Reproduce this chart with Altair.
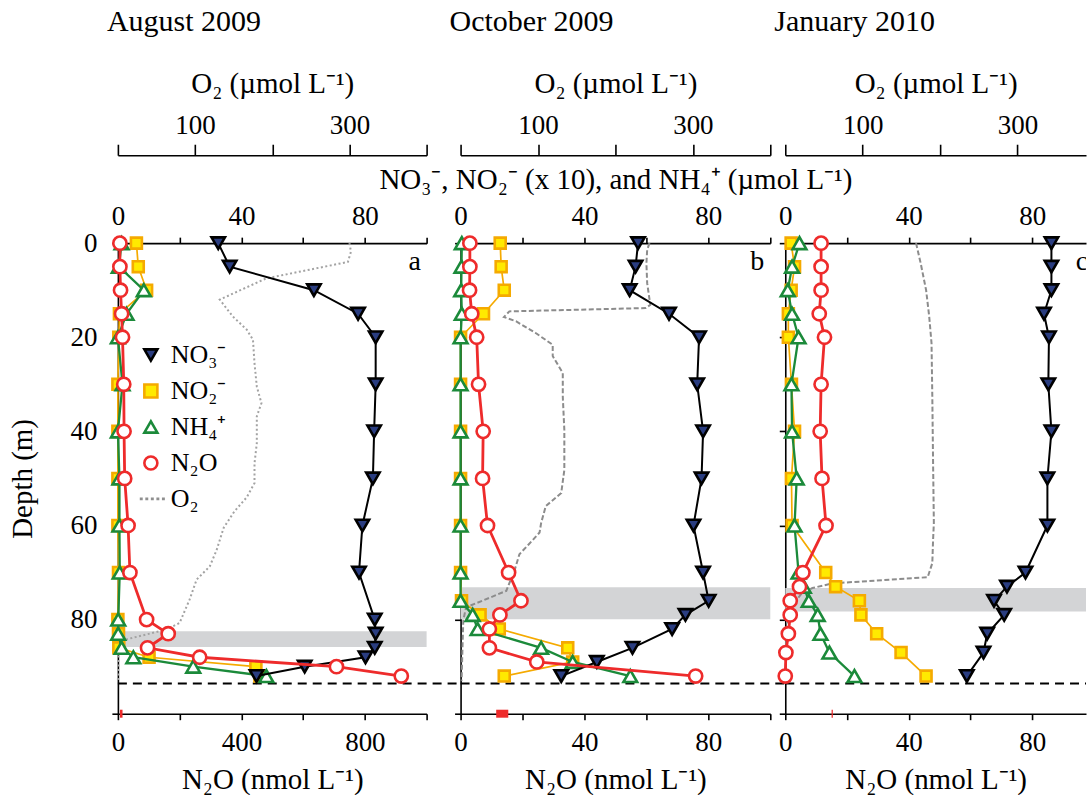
import altair as alt
import pandas as pd

FONT = "Liberation Serif"
LFS = 27   # axis labels
TFS = 29   # axis titles

# ---------------- data ----------------
months = ["August 2009", "October 2009", "January 2010"]
letters = ["a", "b", "c"]

depth_a = [0, 5, 10, 15, 20, 30, 40, 50, 60, 70, 80, 83, 86, 88, 90, 92]
no3_a = [32.5, 36.2, 63.5, 77.8, 83.5, 83.5, 83.0, 82.6, 79.2, 78.1, 83.2, 83.5, 83.2, 80.2, 60.5, 44.9]
no2x10_a = [6.0, 6.6, 9.3, 0.5, 0.3, 0.0, 0.0, 0.0, 0.0, 0.2, 0.0, 0.2, 0.3, 10.1, 44.7, 46.0]
nh4_a = [1.2, 0.3, 8.4, 2.8, 0.0, 1.5, 0.0, 0.5, 0.5, 0.6, 0.1, 0.1, 1.2, 5.0, 24.4, 48.1]
n2o_a = [6.5, 6.5, 8.6, 12, 15, 19, 20, 22, 33, 39, 93, 163, 96, 265, 708, 918]
o2_depth_a = [0, 1.8, 4, 7.5, 12, 15.6, 18.4, 20.5, 25.5, 30.5, 34, 36.8, 42.5, 46.8, 51, 54,
              57, 60.5, 65.2, 68.7, 71.5, 75.7, 80.7, 82.1, 84.2, 85, 93]
o2_a = [300, 302, 298, 192, 132, 149, 167, 175, 177, 180, 186, 180, 180, 177, 177, 167,
        151, 137, 128, 119, 102, 93, 80, 63, 11, 1, 0]

depth_b = [0, 5, 10, 15, 20, 30, 40, 50, 60, 70, 76, 79, 82, 86, 89, 92]
no3_b = [57.3, 56.5, 54.6, 67.3, 77.0, 76.4, 78.3, 77.8, 75.2, 78.3, 80.1, 72.6, 68.3, 55.5, 44.0, 32.5]
no2x10_b = [12.8, 13.1, 14.1, 7.4, 0.0, 0.0, 0.0, 0.0, 0.0, 0.0, 0.3, 6.3, 12.5, 34.6, 36.2, 14.1]
nh4_b = [0.4, 0.3, 0.2, 0.4, 0.0, 0.0, 0.0, 0.0, 0.0, 0.0, 0.0, 3.9, 5.5, 26.0, 36.2, 54.8]
n2o_b = [3.0, 3.0, 2.9, 3.6, 5.2, 5.8, 7.3, 7.1, 8.7, 15.5, 19.5, 12.7, 9.3, 9.3, 24.6, 75.9]
o2_depth_b = [0, 1.4, 4.3, 8.5, 13.1, 13.8, 14.5, 15.7, 16.6, 19.1, 21.6, 24, 27.6, 32.6, 39.7,
              48.2, 53.1, 55.9, 59.5, 61.5, 64.2, 66.1, 69.4, 73.9, 76, 77.4, 80.2, 85.2, 93]
o2_b = [244, 241, 240, 241, 245, 239, 63, 56, 71.5, 97, 119, 119, 132, 132, 134,
        134, 130, 110, 104, 102, 87, 76, 70, 59, 28, 7, 3.5, 2.6, 1.3]

depth_c = [0, 5, 10, 15, 20, 30, 40, 50, 60, 70, 73, 76, 79, 83, 87, 92]
no3_c = [86.2, 86.2, 86.2, 83.8, 85.4, 85.2, 86.2, 84.9, 84.9, 77.8, 71.8, 67.6, 70.9, 65.4, 64.2, 58.8]
no2x10_c = [1.9, 3.0, 1.9, 1.0, 1.0, 2.0, 3.0, 2.0, 2.2, 13.1, 16.3, 24.0, 24.5, 29.6, 37.5, 45.6]
nh4_c = [4.6, 2.2, 0.8, 2.2, 4.3, 2.0, 2.2, 3.7, 3.0, 4.3, 6.0, 7.6, 10.5, 11.4, 14.3, 22.4]
n2o_c = [11.6, 11.6, 11.6, 11.0, 12.7, 11.6, 11.3, 11.9, 13.2, 5.7, 4.6, 1.6, 1.6, 1.0, 0.2, 0.0]
o2_depth_c = [0, 4.3, 10, 15.6, 21.3, 32.6, 46.8, 59.5, 63, 68, 71, 72.3, 73.3, 74.3, 75.7, 78, 85, 92]
o2_c = [169, 175, 182, 186, 189, 190, 191, 192, 191, 190, 184, 61, 35, 22, 15, 3, 1, 0.5]

# N2O saturation range (nmol/L) marked on the bottom axis
sat_lo = [6.5, 11.5, 15.0]
sat_hi = [15.0, 15.4, 15.4]
# suboxic layer (grey band), depths in m
band_top = [82.5, 73.1, 73.3]
band_bot = [85.8, 79.9, 78.3]
# bottom depth (dashed line)
bottom_depth = [93.6, 93.6, 93.6]

# axis extents (panel c is cut by the figure edge)
n2o_max = [1000, 100, 97.4]
nut_max = [100, 100, 97.4]
o2_max = [400, 400, 388.6]
n2o_ticks = [[0, 200, 400, 600, 800, 1000], [0, 20, 40, 60, 80, 100], [0, 20, 40, 60, 80]]
n2o_lab = [400, 40, 40]
nut_ticks = [[0, 20, 40, 60, 80, 100], [0, 20, 40, 60, 80, 100], [0, 20, 40, 60, 80]]
o2_ticks = [[0, 100, 200, 300, 400], [0, 100, 200, 300, 400], [0, 100, 200, 300]]

panels_data = [
    (depth_a, no3_a, no2x10_a, nh4_a, n2o_a, o2_depth_a, o2_a),
    (depth_b, no3_b, no2x10_b, nh4_b, n2o_b, o2_depth_b, o2_b),
    (depth_c, no3_c, no2x10_c, nh4_c, n2o_c, o2_depth_c, o2_c),
]

# ---------------- styling ----------------
SP = ["NO₃⁻", "NO₂⁻", "NH₄⁺", "N₂O", "O₂"]
stroke_sc = alt.Scale(domain=SP, range=["#000000", "#F5AA00", "#1B8A3A", "#EE2B2B", "#8F8F8F"])
fill_sc = alt.Scale(domain=SP, range=["#2A3D80", "#FFEA00", "#FFFFFF", "#FFFFFF", "#FFFFFF"])
shape_sc = alt.Scale(domain=SP, range=["triangle-down", "square", "triangle-up", "circle",
                                       "M-1.7,0H-1.25M-0.85,0H-0.4M0,0H0.45M0.85,0H1.3M1.7,0H2.15"])
sizes = {SP[0]: 180, SP[1]: 120, SP[2]: 190, SP[3]: 175}
line_w = {SP[0]: 2, SP[1]: 1.7, SP[2]: 2.3, SP[3]: 2.8}

H = 471
plot_w = [309, 310, 301]
chart_w = [328, 310, 301]
rule_w = [343, 325, 301]

AX = dict(domainColor="black", domainWidth=1.6, tickColor="black", tickWidth=1.6,
          labelFont=FONT, labelFontSize=LFS, labelColor="black",
          titleFont=FONT, titleFontSize=TFS, titleFontWeight="normal", titleColor="black",
          grid=False, labelFlush=False, labelOverlap=False)

# one legend definition, shared by every layer so that they merge into one legend
LEG = alt.Legend(title=None, orient="none", legendX=20, legendY=99, padding=0,
                 labelFont=FONT, labelFontSize=26, labelColor="black",
                 symbolSize=170, symbolStrokeWidth=2.6, rowPadding=10, labelOffset=7)


def build_panel(i):
    depth, no3, no2, nh4, n2o, o2d, o2v = panels_data[i]
    W = plot_w[i]
    ysc = alt.Scale(domain=[0, 100], reverse=True, nice=False, zero=False)

    y_ax = dict(AX, orient="left", values=[0, 20, 40, 60, 80, 100], tickSize=6)
    if i == 0:
        y_ax.update(labelExpr="datum.value < 100 ? datum.label : ''", labelPadding=15,
                    title="Depth (m)", titlePadding=32)
    else:
        y_ax.update(labels=False, title=None)
    Y = lambda f: alt.Y(f, scale=ysc, axis=alt.Axis(**y_ax))

    n2o_ax = dict(AX, orient="bottom", values=n2o_ticks[i],
                  labelExpr=f"datum.value % {n2o_lab[i]} == 0 ? datum.label : ''",
                  tickSize=6, labelPadding=10, title="N₂O (nmol L⁻¹)", titlePadding=10)
    nut_ax = dict(AX, orient="top", values=nut_ticks[i],
                  labelExpr="datum.value % 40 == 0 ? datum.label : ''",
                  tickSize=6, labelPadding=7)
    if i == 1:
        nut_ax.update(title="NO₃⁻, NO₂⁻ (x 10), and NH₄⁺ (µmol L⁻¹)", titlePadding=8)
    else:
        nut_ax.update(title=None)
    o2_ax = dict(AX, orient="top", values=o2_ticks[i], offset=88, tickSize=11,
                 labelExpr="(datum.value == 100 || datum.value == 300) ? datum.label : ''",
                 labelPadding=5, title="O₂ (µmol L⁻¹)", titlePadding=13)

    n2o_sc = alt.Scale(domain=[0, n2o_max[i]], range=[0, W], nice=False, zero=False)
    nut_sc = alt.Scale(domain=[0, nut_max[i]], range=[0, W], nice=False, zero=False)
    o2_sc = alt.Scale(domain=[0, o2_max[i]], range=[0, W], nice=False, zero=False)

    band = alt.Chart(pd.DataFrame({"top": [band_top[i]], "bot": [band_bot[i]]})).mark_rect(
        color="#D3D4D6").encode(x=alt.value(0), x2=alt.value(W), y=Y("top:Q"), y2="bot:Q")

    rule = alt.Chart(pd.DataFrame({"d": [bottom_depth[i]]})).mark_rule(
        color="black", strokeWidth=2, strokeDash=[9, 6]).encode(
        x=alt.value(0), x2=alt.value(rule_w[i]), y=Y("d:Q"))

    o2_df = pd.DataFrame({"depth": o2d, "o2": o2v})
    o2_line = alt.Chart(o2_df).mark_line(
        color="#A3A3A3" if i == 0 else "#8C8C8C", strokeWidth=2,
        strokeDash=[2, 2.5] if i == 0 else [5, 2.5]).encode(
        x=alt.X("o2:Q", scale=o2_sc, axis=alt.Axis(**o2_ax)),
        y=Y("depth:Q"), order="depth:Q")

    def species_layers(vals, sp, sc, ax):
        df = pd.DataFrame({"depth": depth, "v": vals, "sp": sp})
        X = alt.X("v:Q", scale=sc, axis=alt.Axis(**ax))
        ln = alt.Chart(df).mark_line(strokeWidth=line_w[sp]).encode(
            x=X, y=Y("depth:Q"), order="depth:Q",
            stroke=alt.Stroke("sp:N", scale=stroke_sc, legend=LEG))
        pt = alt.Chart(df).mark_point(filled=True, opacity=1, size=sizes[sp], strokeWidth=2.6).encode(
            x=X, y=Y("depth:Q"),
            shape=alt.Shape("sp:N", scale=shape_sc, legend=LEG),
            fill=alt.Fill("sp:N", scale=fill_sc, legend=LEG),
            stroke=alt.Stroke("sp:N", scale=stroke_sc, legend=LEG))
        return [ln, pt]

    nut_layers = (species_layers(no2, SP[1], nut_sc, nut_ax)
                  + species_layers(nh4, SP[2], nut_sc, nut_ax)
                  + species_layers(no3, SP[0], nut_sc, nut_ax))
    nut = alt.layer(*nut_layers)

    sat = alt.Chart(pd.DataFrame({"lo": [sat_lo[i]], "hi": [sat_hi[i]]})).mark_rect(
        color="#EE2B2B").encode(
        x=alt.X("lo:Q", scale=n2o_sc, axis=alt.Axis(**n2o_ax)), x2="hi:Q",
        y=alt.value(H - 4), y2=alt.value(H + 4))
    n2o_layers = species_layers(n2o, SP[3], n2o_sc, n2o_ax) + [sat]
    n2o_l = alt.layer(*n2o_layers)

    letter = alt.Chart(pd.DataFrame({"t": [letters[i]]})).mark_text(
        font=FONT, fontSize=28, align="center", baseline="middle", color="black",
        clip=(i == 2)).encode(x=alt.value(297), y=alt.value(19), text="t:N")

    return alt.layer(band, rule, o2_line, nut, n2o_l, letter).resolve_scale(
        x="independent").properties(
        width=chart_w[i], height=H,
        view=alt.ViewBackground(stroke="transparent", strokeWidth=0),
        title=alt.TitleParams(months[i], anchor="start", frame="group", dx=-11, offset=8,
                              font=FONT, fontSize=30, fontWeight="normal", color="black",
                              baseline="alphabetic"))


chart = alt.hconcat(build_panel(0), build_panel(1), build_panel(2), spacing=15,
                    bounds="flush").properties(
    padding={"left": 9, "top": 7, "right": 0, "bottom": 0}
).configure_view(stroke="transparent", strokeWidth=0).configure(background="white")

chart.save("out.html", embed_options={"renderer": "svg", "actions": False})
